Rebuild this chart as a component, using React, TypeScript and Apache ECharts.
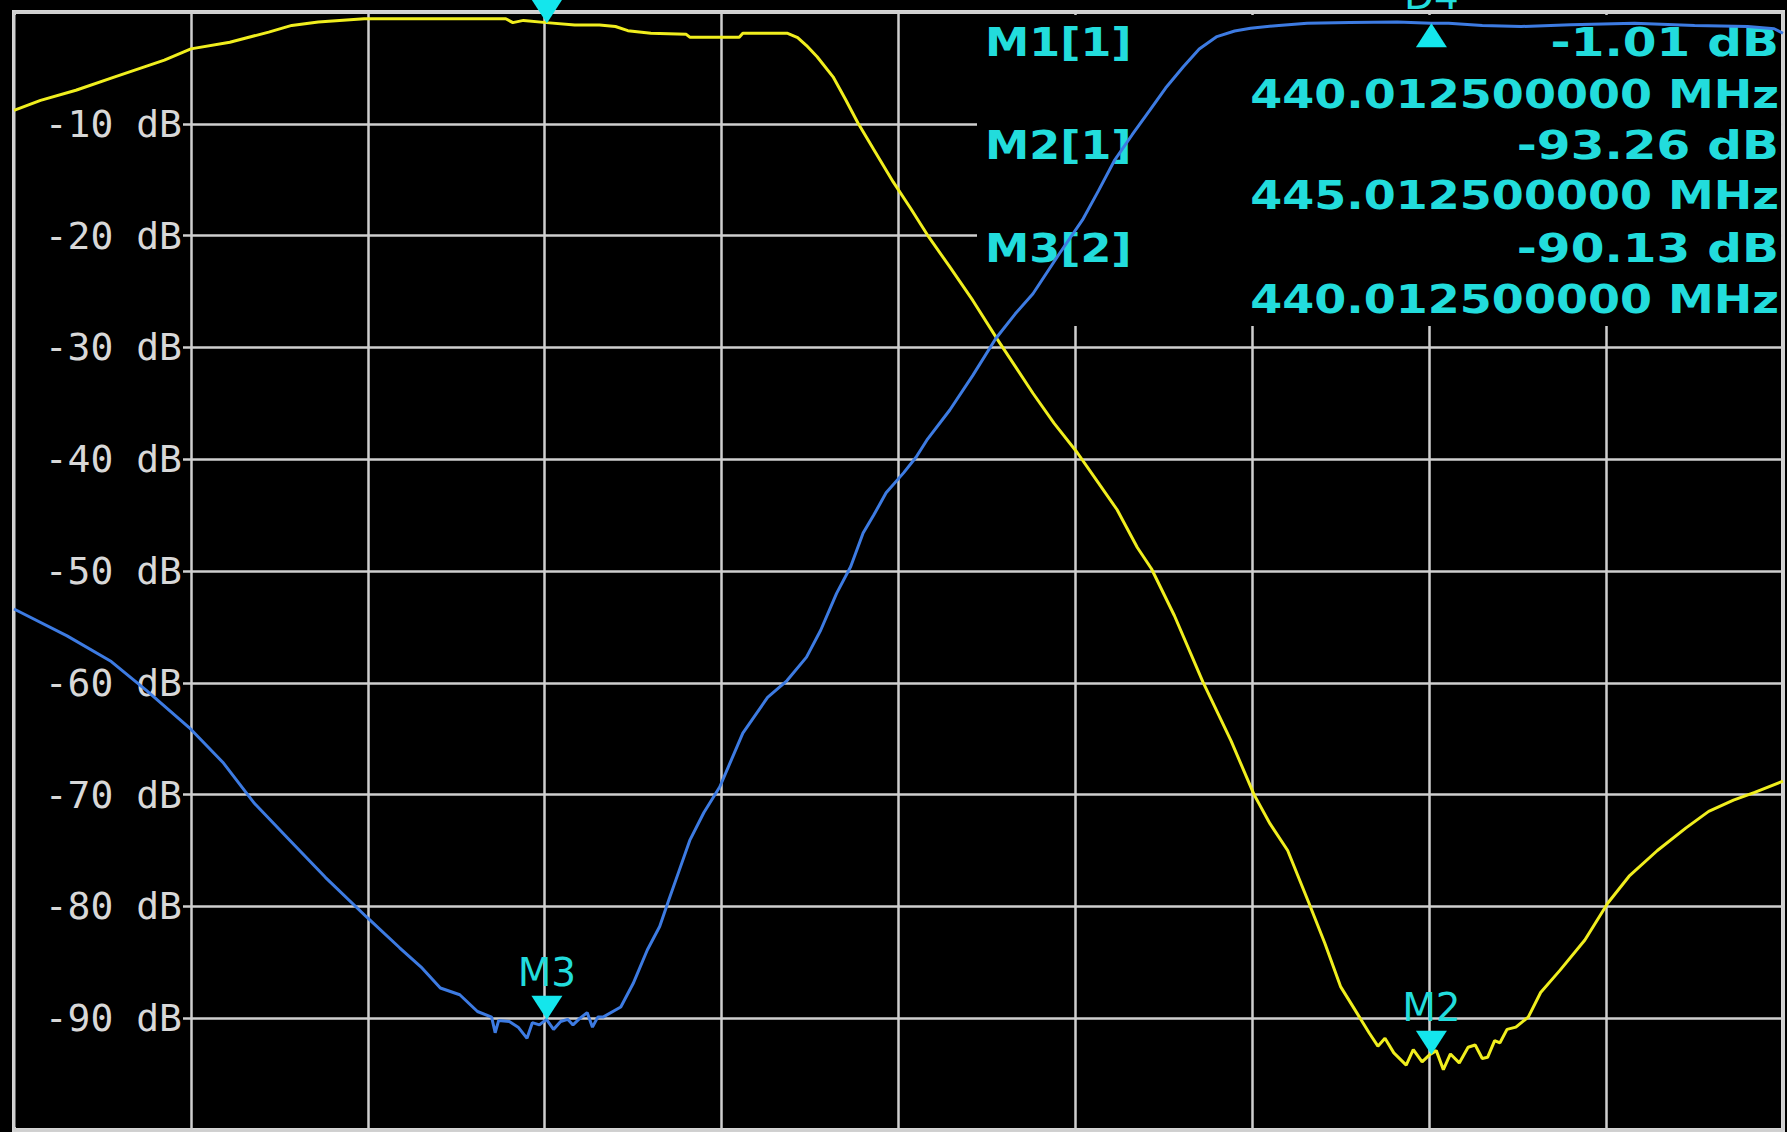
import React, { useEffect, useRef } from "react";
import * as echarts from "echarts";

const W = 1787;
const H = 1132;

// Frequency axis (MHz) and level axis (dB)
const freqMin = 437;
const freqMax = 447;
const freqStep = 1;
const levelMin = -100;
const levelMax = 0;
const levelStep = 10;
const levelUnit = "dB";

// Trace 1 (yellow)
const trace1Freq = [
  437.0, 437.15, 437.35, 437.57, 437.85, 438.0, 438.22, 438.44, 438.57, 438.72,
  438.98, 439.4, 439.78, 439.82, 439.88, 440.01, 440.17, 440.31, 440.4, 440.47,
  440.6, 440.8, 440.82, 441.1, 441.12, 441.37, 441.43, 441.48, 441.54, 441.63,
  441.7, 441.77, 441.86, 441.97, 442.07, 442.17, 442.29, 442.42, 442.56, 442.66,
  442.76, 442.88, 443.01, 443.12, 443.235, 443.35, 443.43, 443.56, 443.72, 443.88,
  444.01, 444.1, 444.2, 444.32, 444.41, 444.5, 444.59, 444.66, 444.71, 444.75,
  444.8, 444.87, 444.91, 444.96, 445.0, 445.04, 445.08, 445.12, 445.17, 445.22,
  445.26, 445.3, 445.33, 445.37, 445.4, 445.44, 445.49, 445.56, 445.63, 445.74,
  445.88, 446.01, 446.13, 446.29, 446.45, 446.58, 446.72, 446.84, 447.0,
];
const trace1Db = [
  -8.8, -7.9, -7.0, -5.8, -4.3, -3.3, -2.7, -1.8, -1.2, -0.9,
  -0.6, -0.6, -0.6, -0.95, -0.75, -0.95, -1.16, -1.16, -1.3, -1.67,
  -1.9, -2.0, -2.25, -2.25, -1.9, -1.9, -2.3, -3.0, -4.0, -5.8,
  -7.8, -9.9, -12.3, -15.2, -17.6, -20.1, -22.8, -25.8, -29.3, -31.7,
  -34.1, -36.8, -39.4, -41.9, -44.5, -47.9, -49.8, -54.0, -59.9, -65.2,
  -70.0, -72.6, -75.0, -79.7, -83.3, -87.2, -89.5, -91.3, -92.5, -91.8,
  -93.1, -94.2, -92.8, -93.9, -93.3, -92.9, -94.6, -93.2, -94.0, -92.6,
  -92.4, -93.6, -93.5, -92.0, -92.2, -91.0, -90.8, -89.9, -87.7, -85.7,
  -83.0, -79.7, -77.3, -75.0, -73.0, -71.5, -70.5, -69.8, -68.8,
];

// Trace 2 (blue)
const trace2Freq = [
  437.0, 437.3, 437.55, 437.75, 437.99, 438.18, 438.36, 438.56, 438.76, 438.99,
  439.18, 439.3, 439.41, 439.52, 439.62, 439.7, 439.72, 439.74, 439.8, 439.85,
  439.9, 439.93, 439.97, 440.01, 440.05, 440.09, 440.13, 440.16, 440.2, 440.24,
  440.27, 440.3, 440.33, 440.43, 440.5, 440.58, 440.65, 440.7, 440.76, 440.82,
  440.9, 440.99, 441.12, 441.26, 441.37, 441.48, 441.56, 441.65, 441.73, 441.8,
  441.86, 441.93, 442.03, 442.1, 442.16, 442.29, 442.42, 442.55, 442.66, 442.76,
  442.91, 443.04, 443.13, 443.22, 443.32, 443.42, 443.51, 443.61, 443.7, 443.8,
  443.9, 443.99, 444.15, 444.31, 444.55, 444.82, 445.01, 445.11, 445.3, 445.52,
  445.8, 446.16, 446.5, 446.8, 446.95, 447.0,
];
const trace2Db = [
  -53.4, -55.8, -58.1, -60.7, -64.0, -67.1, -70.8, -74.1, -77.4, -80.9,
  -83.7, -85.4, -87.3, -87.9, -89.4, -89.9, -91.3, -90.2, -90.3, -90.8,
  -91.8, -90.4, -90.6, -90.1, -91.0, -90.3, -90.1, -90.6, -90.0, -89.5,
  -90.8, -89.9, -89.9, -89.0, -86.9, -83.9, -81.8, -79.5, -76.8, -74.1,
  -71.6, -69.3, -64.5, -61.3, -59.8, -57.7, -55.3, -52.0, -49.6, -46.6,
  -45.0, -43.0, -41.2, -39.8, -38.3, -35.6, -32.5, -29.2, -27.0, -25.2,
  -21.6, -18.6, -16.0, -13.3, -11.0, -8.8, -6.8, -4.9, -3.3, -2.2,
  -1.7, -1.45, -1.2, -1.0, -0.95, -0.9, -1.0, -1.0, -1.2, -1.3,
  -1.15, -1.0, -1.2, -1.3, -1.5, -1.9,
];

// Markers
const markerNames = ["M1", "M2", "M3", "D4"];
const markerTrace = [1, 1, 2, 2];
const markerFreq = [440.0125, 445.0125, 440.0125, 445.0125];
const markerDb = [-1.01, -93.26, -90.13, -1.0];
const markerPointsUp = [false, false, false, true];
const markerShowName = [false, true, true, true];

// Marker readout table (first three markers)
const readoutNames = ["M1[1]", "M2[1]", "M3[2]"];
const readoutMarkerIndex = [0, 1, 2];

const YELLOW = "#f0ee1e";
const BLUE = "#3d7be2";
const CYAN = "#14e6ec";
const LABEL_CYAN = "#22dcdc";
const GRIDC = "#cfcfcf";

function zip(a: number[], b: number[]) {
  return a.map((v, i) => [v, b[i]]);
}

export default function App() {
  const ref = useRef<HTMLDivElement>(null);

  useEffect(() => {
    document.body.style.margin = "0";
    document.body.style.background = "#000";
    if (!ref.current) return;
    const chart = echarts.init(ref.current, undefined, { renderer: "svg" });

    const markerSeries = (trace: number) => ({
      type: "scatter",
      z: 4,
      clip: false,
      silent: true,
      data: markerNames
        .map((name, i) => ({ name, i }))
        .filter((m) => markerTrace[m.i] === trace)
        .map(({ name, i }) => ({
          name,
          value: [markerFreq[i], markerDb[i]],
          symbol: "triangle",
          symbolSize: [31, 24],
          symbolRotate: markerPointsUp[i] ? 0 : 180,
          symbolOffset: [0, markerPointsUp[i] ? "50%" : "-50%"],
          itemStyle: { color: CYAN, opacity: 1 },
          label: {
            show: markerShowName[i],
            position: "top",
            distance: markerPointsUp[i] ? 8 : 4,
            formatter: "{b}",
            color: LABEL_CYAN,
            fontFamily: "DejaVu Sans",
            fontSize: 39,
          },
        })),
    });

    const rowY = [42.5, 94, 145, 195, 248, 299.5];
    const readoutFont = 'bold 39px "DejaVu Sans"';
    const texts: any[] = [];
    readoutNames.forEach((nm, r) => {
      const mi = readoutMarkerIndex[r];
      const valueText = `${markerDb[mi].toFixed(2)} ${levelUnit}`;
      const freqText = `${markerFreq[mi].toFixed(9)} MHz`;
      texts.push({
        type: "text",
        x: 985,
        y: rowY[r * 2],
        scaleX: 1.14,
        z: 1.2,
        style: { text: nm, fill: LABEL_CYAN, font: readoutFont, align: "left", verticalAlign: "middle" },
      });
      texts.push({
        type: "text",
        x: 1779,
        y: rowY[r * 2],
        scaleX: 1.245,
        z: 1.2,
        style: { text: valueText, fill: LABEL_CYAN, font: readoutFont, align: "right", verticalAlign: "middle" },
      });
      texts.push({
        type: "text",
        x: 1779,
        y: rowY[r * 2 + 1],
        scaleX: 1.18,
        z: 1.2,
        style: { text: freqText, fill: LABEL_CYAN, font: readoutFont, align: "right", verticalAlign: "middle" },
      });
    });

    const option: any = {
      animation: false,
      backgroundColor: "#000",
      grid: {
        left: 14,
        top: 12,
        width: 1769,
        height: 1118,
        show: true,
        borderColor: "#d6d6d6",
        borderWidth: 4,
        backgroundColor: "#000",
      },
      xAxis: {
        type: "value",
        min: freqMin,
        max: freqMax,
        interval: freqStep,
        axisLine: { show: false },
        axisTick: { show: false },
        axisLabel: { show: false },
        splitLine: { show: true, lineStyle: { color: GRIDC, width: 2.5 } },
      },
      yAxis: [
        {
          type: "value",
          min: levelMin,
          max: levelMax,
          interval: levelStep,
          z: 0,
          axisLine: { show: false },
          axisTick: { show: false },
          axisLabel: { show: false },
          splitLine: { show: true, lineStyle: { color: GRIDC, width: 2.5 } },
        },
        {
          type: "value",
          min: levelMin,
          max: levelMax,
          interval: levelStep,
          position: "left",
          z: 1.5,
          axisLine: { show: false },
          axisTick: { show: false },
          splitLine: { show: false },
          axisLabel: {
            show: true,
            inside: true,
            margin: 168,
            align: "right",
            color: "#d8d8d8",
            fontFamily: "DejaVu Sans Mono",
            fontSize: 38,
            showMinLabel: false,
            showMaxLabel: false,
            formatter: (v: number) => `${v} ${levelUnit}`,
          },
        },
      ],
      graphic: {
        elements: [
          { type: "rect", z: 1, silent: true, shape: { x: 15.5, y: 15, width: 167.5, height: 1112 }, style: { fill: "#000" } },
          { type: "rect", z: 1, silent: true, shape: { x: 977, y: 15, width: 804, height: 311 }, style: { fill: "#000" } },
          ...texts,
        ],
      },
      series: [
        {
          name: "Trc1",
          type: "line",
          z: 2,
          symbol: "none",
          data: zip(trace1Freq, trace1Db),
          lineStyle: { color: YELLOW, width: 3 },
          itemStyle: { color: YELLOW },
          silent: true,
        },
        {
          name: "Trc2",
          type: "line",
          z: 3,
          symbol: "none",
          data: zip(trace2Freq, trace2Db),
          lineStyle: { color: BLUE, width: 3 },
          itemStyle: { color: BLUE },
          silent: true,
        },
        markerSeries(1),
        markerSeries(2),
      ],
    };
    chart.setOption(option);
    return () => chart.dispose();
  }, []);

  return (
    <div
      ref={ref}
      style={{ position: "fixed", left: 0, top: 0, width: W, height: H, background: "#000" }}
    />
  );
}
